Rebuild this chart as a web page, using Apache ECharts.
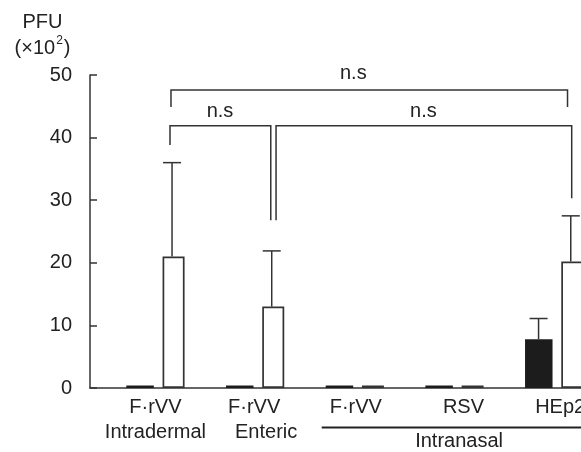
<!DOCTYPE html>
<html><head><meta charset="utf-8">
<script src="https://cdn.jsdelivr.net/npm/echarts@6/dist/echarts.min.js"></script>
<style>html,body{margin:0;padding:0;background:#fff}#c{width:581px;height:452px}</style>
</head><body><div id="c"></div>
<script>
// ---- data ----
const categories = ['F·rVV\nIntradermal', 'F·rVV\nEnteric', 'F·rVV', 'RSV', 'HEp2'];
const blackMean = [0.4, 0.4, 0.4, 0.4, 7.8];
const blackSD   = [0, 0, 0, 0, 3.3];
const whiteMean = [21.0, 13.0, 0.4, 0.4, 20.2];
const whiteSD   = [15.0, 8.9, 0, 0, 7.3];
const yTicks = [0, 10, 20, 30, 40, 50];
// significance brackets in data space: [x1, x2, yTop, yLeftEnd, yRightEnd]
const brackets = [
  [0.156, 4.134, 47.6, 44.9, 44.9],
  [0.146, 1.157, 41.9, 38.8, 26.8],
  [1.21, 4.176, 41.9, 26.8, 30.3]
];
const bracketLabels = ['n.s', 'n.s', 'n.s'];
const bracketLabelPos = [[1.985, 50.2], [0.648, 44.2], [2.688, 44.2]];
const groupLabel = 'Intranasal';
const groupLine = [1.668, 4.424, -6.3];
const groupLabelPos = [3.046, -8.55];

// ---- style ----
const FONT = "'Liberation Sans', Arial, Helvetica, sans-serif";
const INK = '#222';
const LINE = '#333';
const labelShift = [[0, 0], [-1, 11], [1], [9], [6]];
const whiteErrOffsetPx = 16.6;
const blackErrOffsetPx = -15.6;

const rich = {};
labelShift.forEach((arr, i) => arr.forEach((s, j) => {
  rich['s' + i + '_' + j] = {
    fontSize: 20, lineHeight: 25, color: INK, fontFamily: FONT,
    padding: s >= 0 ? [0, 0, 0, 2 * s] : [0, -2 * s, 0, 0]
  };
}));

function errorItem(offsetPx) {
  return function (params, api) {
    const p0 = api.coord([api.value(0), api.value(1)]);
    const p1 = api.coord([api.value(0), api.value(2)]);
    const x = p0[0] + offsetPx;
    const st = { stroke: LINE, lineWidth: 1.5 };
    return { type: 'group', children: [
      { type: 'line', shape: { x1: x, y1: p0[1], x2: x, y2: p1[1] }, style: st },
      { type: 'line', shape: { x1: x - 9, y1: p1[1], x2: x + 9, y2: p1[1] }, style: st }
    ]};
  };
}
const whiteErr = whiteMean.map((m, i) => [i, m, m + whiteSD[i]]).filter((d, i) => whiteSD[i] > 0);
const blackErr = blackMean.map((m, i) => [i, m, m + blackSD[i]]).filter((d, i) => blackSD[i] > 0);

const chart = echarts.init(document.getElementById('c'), null, { renderer: 'canvas' });
chart.setOption({
  animation: false,
  backgroundColor: '#fff',
  textStyle: { fontFamily: FONT },
  title: {
    text: '{a|PFU}\n{b|(×10}{s|2}{b|)}',
    left: 42.5, top: 9, padding: 0, textAlign: 'center',
    textStyle: {
      fontWeight: 'normal',
      rich: {
        a: { fontSize: 20, lineHeight: 26, color: INK, fontFamily: FONT, fontWeight: 'normal' },
        b: { fontSize: 20, lineHeight: 26, color: INK, fontFamily: FONT, fontWeight: 'normal' },
        s: { fontSize: 12, lineHeight: 26, color: INK, fontFamily: FONT, fontWeight: 'normal', verticalAlign: 'top', padding: [0, 1, 10, 1] }
      }
    }
  },
  grid: [
    { left: 105.6, right: -23, top: 75, bottom: 64, containLabel: false, outerBoundsMode: 'none' },
    { left: 90, right: -23, top: 75, bottom: 64, containLabel: false, outerBoundsMode: 'none' }
  ],
  xAxis: [
    { type: 'category', gridIndex: 0, data: categories,
      axisLine: { show: false }, axisTick: { show: false }, splitLine: { show: false },
      axisLabel: { interval: 0, margin: 7, color: INK, fontSize: 20, fontFamily: FONT, lineHeight: 25,
        formatter: function (v, idx) { return v.split('\n').map((t, j) => '{s' + idx + '_' + j + '|' + t + '}').join('\n'); },
        rich: rich } },
    { type: 'value', gridIndex: 0, min: -0.5, max: 4.5, show: false },
    { type: 'value', gridIndex: 1, min: 0, max: 1,
      axisLine: { show: true, lineStyle: { color: LINE, width: 1.5 } },
      axisTick: { show: false }, axisLabel: { show: false }, splitLine: { show: false } }
  ],
  yAxis: [
    { type: 'value', gridIndex: 0, min: 0, max: 50, interval: 10, show: false },
    { type: 'value', gridIndex: 1, min: yTicks[0], max: yTicks[yTicks.length - 1], interval: 10,
      axisLine: { show: true, lineStyle: { color: LINE, width: 1.5 } },
      axisTick: { show: true, inside: true, length: 7, lineStyle: { color: LINE, width: 1.5 } },
      axisLabel: { margin: 18, color: INK, fontSize: 20, fontFamily: FONT },
      splitLine: { show: false } }
  ],
  series: [
    { type: 'bar', xAxisIndex: 0, yAxisIndex: 0, data: blackMean, barWidth: 27.5, barGap: '31.8%',
      itemStyle: { color: '#1c1c1c' } },
    { type: 'bar', xAxisIndex: 0, yAxisIndex: 0, data: whiteMean, barWidth: 22, barGap: '31.8%',
      itemStyle: { color: '#fff', borderColor: LINE, borderWidth: 1.7 } },
    { type: 'custom', xAxisIndex: 1, yAxisIndex: 0, data: whiteErr, renderItem: errorItem(whiteErrOffsetPx), z: 3 },
    { type: 'custom', xAxisIndex: 1, yAxisIndex: 0, data: blackErr, renderItem: errorItem(blackErrOffsetPx), z: 3 },
    { type: 'custom', xAxisIndex: 1, yAxisIndex: 0, data: brackets, z: 3,
      renderItem: function (params, api) {
        const a = api.coord([api.value(0), api.value(3)]);
        const b = api.coord([api.value(0), api.value(2)]);
        const c = api.coord([api.value(1), api.value(2)]);
        const d = api.coord([api.value(1), api.value(4)]);
        return { type: 'polyline', shape: { points: [a, b, c, d] }, style: { stroke: LINE, lineWidth: 1.5, fill: null } };
      } },
    { type: 'custom', xAxisIndex: 1, yAxisIndex: 0, data: bracketLabelPos, z: 3,
      renderItem: function (params, api) {
        const p = api.coord([api.value(0), api.value(1)]);
        return { type: 'text', x: p[0], y: p[1], style: { text: bracketLabels[params.dataIndex], fontSize: 20, fontFamily: FONT, fill: INK, align: 'center', verticalAlign: 'middle' } };
      } },
    { type: 'custom', xAxisIndex: 1, yAxisIndex: 0, data: [[groupLine[0], groupLine[1], groupLine[2], groupLabelPos[0], groupLabelPos[1]]], z: 3,
      renderItem: function (params, api) {
        const a = api.coord([api.value(0), api.value(2)]);
        const b = api.coord([api.value(1), api.value(2)]);
        const t = api.coord([api.value(3), api.value(4)]);
        return { type: 'group', children: [
          { type: 'line', shape: { x1: a[0], y1: a[1], x2: b[0], y2: b[1] }, style: { stroke: INK, lineWidth: 2 } },
          { type: 'text', x: t[0], y: t[1], style: { text: groupLabel, fontSize: 20, fontFamily: FONT, fill: INK, align: 'center', verticalAlign: 'middle' } }
        ]};
      } }
  ]
});
</script></body></html>
